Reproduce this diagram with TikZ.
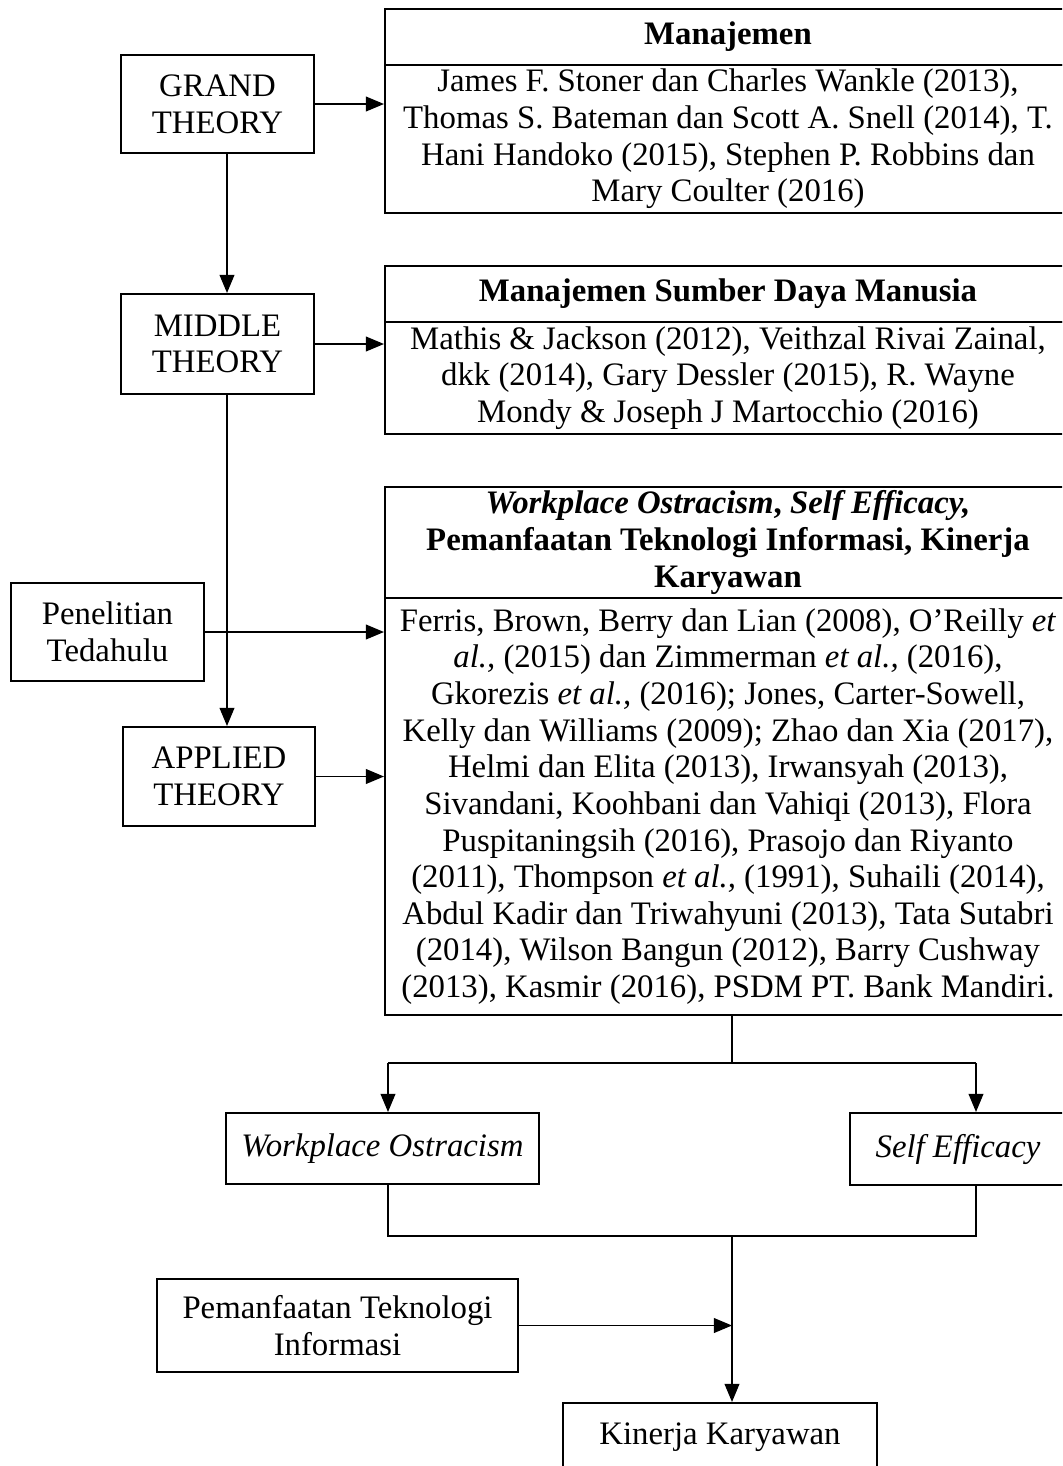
\documentclass[tikz,border=0pt]{standalone}
\usepackage{fontspec}
\setmainfont{Liberation Serif}
\usetikzlibrary{arrows.meta,calc}
\begin{document}
\begin{tikzpicture}[x=0.366pt,y=-0.366pt,
  box/.style={draw,line width=0.75pt,inner sep=0pt,align=center,font=\fontsize{12}{13.4}\selectfont},
  hdr/.style={box,font=\fontsize{12}{13.4}\selectfont\bfseries},
  sz/.style 2 args={minimum width={#1*0.366pt},minimum height={#2*0.366pt}},
  conn/.style={line width=0.5pt},
  arr/.style={conn,-{Triangle[length=6.6pt,width=5.4pt]}}]
\clip (0,0) rectangle (1062,1466);
\fill[white] (0,0) rectangle (1062,1466);

% left column
\node[box,sz={193}{98}] (grand) at (217.5,104) {GRAND\\THEORY};
\node[box,sz={193}{100}] (middle) at (217.5,344) {MIDDLE\\THEORY};
\node[box,sz={193}{98}] (pen) at (107.5,632) {Penelitian\\Tedahulu};
\node[box,sz={192}{99}] (applied) at (219,776.5) {APPLIED\\THEORY};

% right column
\node[hdr,sz={686}{56}] (m1h) at (728,37) {Manajemen};
\node[box,sz={686}{148}] (m1b) at (728,139) {James F. Stoner dan Charles Wankle (2013),\\Thomas S. Bateman dan Scott A. Snell (2014), T.\\Hani Handoko (2015), Stephen P. Robbins dan\\Mary Coulter (2016)};

\node[hdr,sz={686}{56}] (m2h) at (728,294) {Manajemen Sumber Daya Manusia};
\node[box,sz={686}{112}] (m2b) at (728,378) {Mathis \& Jackson (2012), Veithzal Rivai Zainal,\\dkk (2014), Gary Dessler (2015), R. Wayne\\Mondy \& Joseph J Martocchio (2016)};

\node[hdr,sz={686}{111}] (m3h) at (728,542.5) {\textit{Workplace Ostracism}, \textit{Self Efficacy,}\\Pemanfaatan Teknologi Informasi, Kinerja\\Karyawan};
\node[box,sz={686}{417}] (m3b) at (728,806.5) {Ferris, Brown, Berry dan Lian (2008), O’Reilly \textit{et}\\\textit{al.,} (2015) dan Zimmerman \textit{et al.,} (2016),\\Gkorezis \textit{et al.,} (2016); Jones, Carter-Sowell,\\Kelly dan Williams (2009); Zhao dan Xia (2017),\\Helmi dan Elita (2013), Irwansyah (2013),\\Sivandani, Koohbani dan Vahiqi (2013), Flora\\Puspitaningsih (2016), Prasojo dan Riyanto\\(2011), Thompson \textit{et al.,} (1991), Suhaili (2014),\\Abdul Kadir dan Triwahyuni (2013), Tata Sutabri\\(2014), Wilson Bangun (2012), Barry Cushway\\(2013), Kasmir (2016), PSDM PT. Bank Mandiri.};

% bottom part
\node[box,sz={313}{71}] (wo) at (382.5,1148.5) {\textit{Workplace Ostracism}};
\node[box,sz={216}{72}] (se) at (958,1149) {\textit{Self Efficacy}};
\node[box,sz={361}{93}] (pti) at (337.5,1325.5) {Pemanfaatan Teknologi\\Informasi};
\node[box,sz={314}{69}] (kk) at (720,1437.5) {Kinerja Karyawan};

% helper coordinates
\coordinate (spine) at (227,0);
\coordinate (split) at (732,1063);
\coordinate (wol) at (388,1063);
\coordinate (ser) at (976,1063);
\coordinate (join) at (732,1236);

% connectors
\draw[arr] (grand.east) -- (grand.east -| m1b.west);
\draw[arr] (grand.south -| spine) -- (middle.north -| spine);
\draw[arr] (middle.east) -- (middle.east -| m2b.west);
\draw[arr] (middle.south -| spine) -- (applied.north -| spine);
\draw[arr] (pen.east) -- (pen.east -| m3b.west);
\draw[arr] (applied.east) -- (applied.east -| m3b.west);

\draw[conn] (m3b.south -| split) -- (split);
\draw[conn] (wol) -- (ser);
\draw[arr] (wol) -- (wo.north -| wol);
\draw[arr] (ser) -- (se.north -| ser);
\draw[conn] (wo.south -| wol) -- (wol |- join) -- (ser |- join) -- (se.south -| ser);
\draw[arr] (join) -- (kk.north -| join);
\draw[arr] (pti.east) -- (pti.east -| join);
\end{tikzpicture}
\end{document}
